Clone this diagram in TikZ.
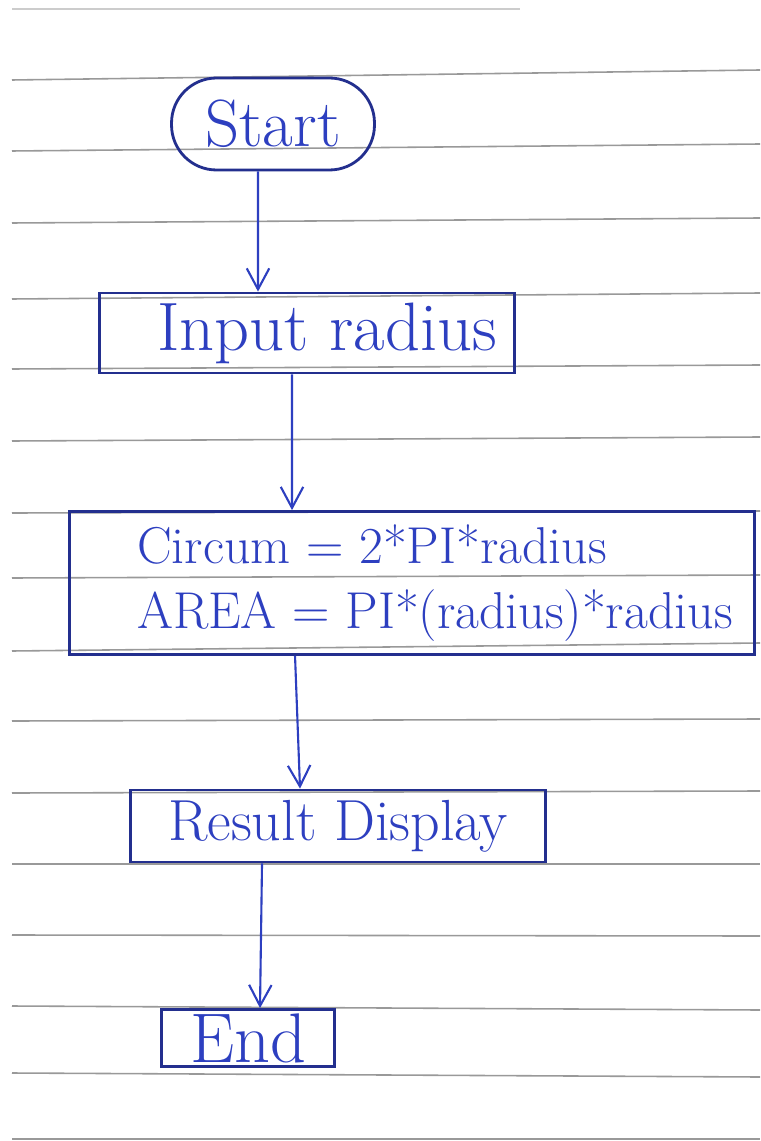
\documentclass[tikz,border=0pt]{standalone}
\usetikzlibrary{arrows.meta}
\begin{document}
\begin{tikzpicture}[x=0.02cm, y=-0.02cm,
  rule/.style={draw=gray!80, line width=0.9pt},
  box/.style={draw=ink, line width=1.6pt, text=pen, inner sep=0pt},
  flow/.style={draw=pen, line width=1.2pt, -{Straight Barb[length=0.42cm,width=0.45cm]}}]
\definecolor{ink}{HTML}{232F8E}
\definecolor{pen}{HTML}{2D3FC0}
\useasboundingbox[fill=white] (0,0) rectangle (760,1141);
\draw[rule, draw=gray!40] (12,9) -- (520,9);
\foreach \yl/\yr in {80/70, 151/144, 223/218, 299/293, 369/365, 441/437, 513/511, 578/575, 651/643, 721/719, 793/791, 864/864, 935/936, 1006/1010, 1073/1077, 1139/1139}
  \draw[rule] (12,\yl) -- (760,\yr);
\node[box, rounded corners=0.9cm, minimum width=4.06cm, minimum height=1.84cm, font=\fontsize{38}{42}\selectfont] (start) at (273,124) {Start};
\node[box, minimum width=8.3cm, minimum height=1.6cm, font=\fontsize{39}{44}\selectfont] (input) at (307,333) {\hspace*{0.8cm}Input radius};
\node[box, minimum width=13.7cm, minimum height=2.86cm, align=left, font=\fontsize{29.5}{37}\selectfont] (calc) at (412,583) {\hspace*{0.92cm}Circum = 2*PI*radius\\\hspace*{0.92cm}AREA = PI*(radius)*radius};
\node[box, minimum width=8.3cm, minimum height=1.44cm, font=\fontsize{33}{38}\selectfont] (result) at (338,826) {Result Display};
\node[box, minimum width=3.46cm, minimum height=1.14cm, font=\fontsize{40}{44}\selectfont] (end) at (248,1038) {End};
\draw[flow] ([xshift=-0.3cm]start.south) -- ([xshift=-0.98cm]input.north);
\draw[flow] ([xshift=-0.3cm]input.south) -- ([xshift=-2.4cm]calc.north);
\draw[flow] ([xshift=-2.34cm]calc.south) -- ([xshift=-0.76cm]result.north);
\draw[flow] ([xshift=-1.52cm]result.south) -- ([xshift=0.24cm]end.north);
\end{tikzpicture}
\end{document}
